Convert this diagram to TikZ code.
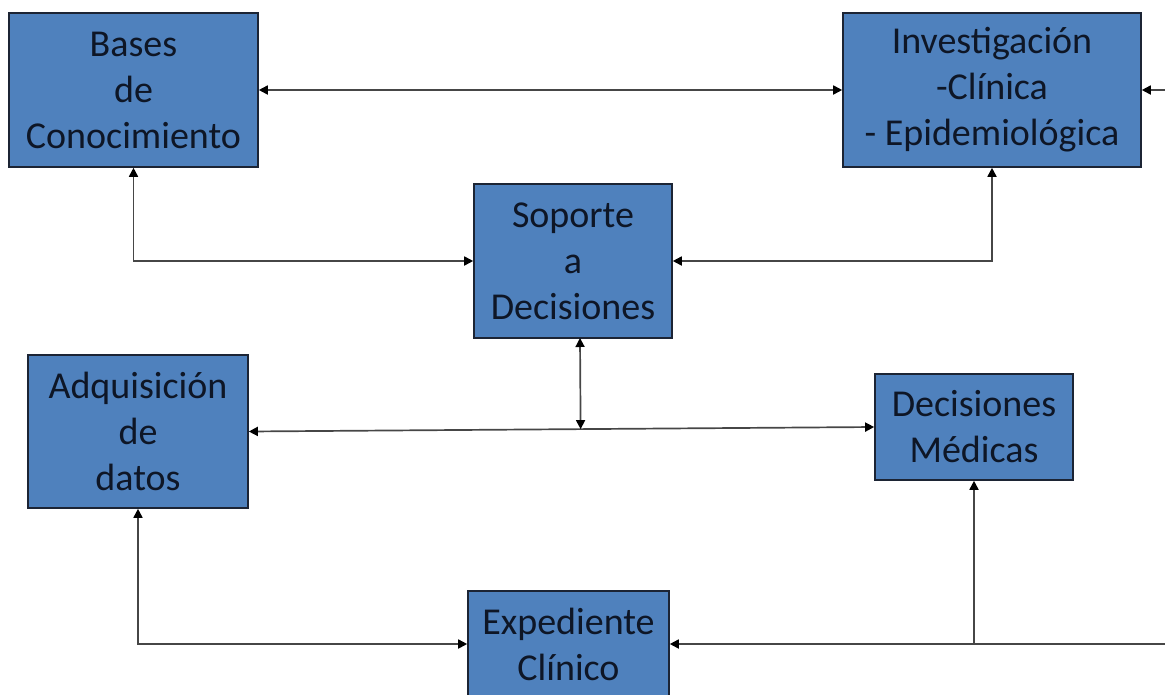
\documentclass[tikz,border=0pt]{standalone}
\usepackage{fontspec}
\setmainfont{Carlito}
\usetikzlibrary{arrows.meta,calc}
\definecolor{boxblue}{RGB}{79,129,189}
\definecolor{boxedge}{RGB}{28,36,52}
\definecolor{inktext}{RGB}{14,22,38}
\definecolor{wire}{RGB}{70,70,70}
\tikzset{
  block/.style={draw=boxedge, line width=1.6pt, fill=boxblue, rectangle,
    inner sep=0pt, align=center, text=inktext,
    font=\fontsize{38}{46}\selectfont},
  link/.style={draw=wire, line width=1.7pt,
    {Triangle[length=9pt,width=9pt,color=black]}-{Triangle[length=9pt,width=9pt,color=black]}},
  feed/.style={draw=wire, line width=1.7pt, -{Triangle[length=9pt,width=9pt,color=black]}},
  plain/.style={draw=wire, line width=1.7pt}
}
\begin{document}
\begin{tikzpicture}[x=1pt,y=-1pt]
  \useasboundingbox (0,0) rectangle (1165,694);
  \clip (0,0) rectangle (1165,694);

  % blocks
  \node[block, minimum width=249pt, minimum height=154pt] (bases) at (133.5,90)
    {\raisebox{-4pt}{\parbox{249pt}{\centering Bases\\de\\Conocimiento}}};
  \node[block, minimum width=298pt, minimum height=154pt] (inv) at (992,90)
    {\raisebox{-4pt}{\parbox{298pt}{\centering Investigación\\-Clínica\\- Epidemiológica}}};
  \node[block, minimum width=198pt, minimum height=154pt] (sop) at (573,261)
    {\raisebox{-2pt}{\parbox{198pt}{\centering Soporte\\a\\Decisiones}}};
  \node[block, minimum width=220pt, minimum height=153pt] (adq) at (138,431.5)
    {\raisebox{-2pt}{\parbox{220pt}{\centering Adquisición\\de\\datos}}};
  \node[block, minimum width=198pt, minimum height=106pt] (dm) at (974,427)
    {Decisiones\\Médicas};
  \node[block, minimum width=201pt, minimum height=106pt] (exp) at (568.5,644)
    {Expediente\\Clínico};

  % loose ends at the right margin
  \coordinate (inright) at (1165,90);
  \coordinate (outright) at (1165,644);
  \coordinate (sopfoot) at (580,338);
  \coordinate (tee) at ($(adq.east)!(sopfoot)!(dm.west)$);

  % connectors
  \draw[link] (bases.east) -- (inv.west);
  \draw[feed] (inright) -- (inv.east);
  \draw[link] (bases.south) |- (sop.west);
  \draw[link] (inv.south) |- (sop.east);
  \draw[link] (adq.east) -- (dm.west);
  \draw[link] (sopfoot) -- (tee);
  \draw[link] (adq.south) |- (exp.west);
  \draw[link] (dm.south) |- (exp.east);
  \draw[plain] (dm.south |- exp.east) -- (outright);
\end{tikzpicture}
\end{document}
